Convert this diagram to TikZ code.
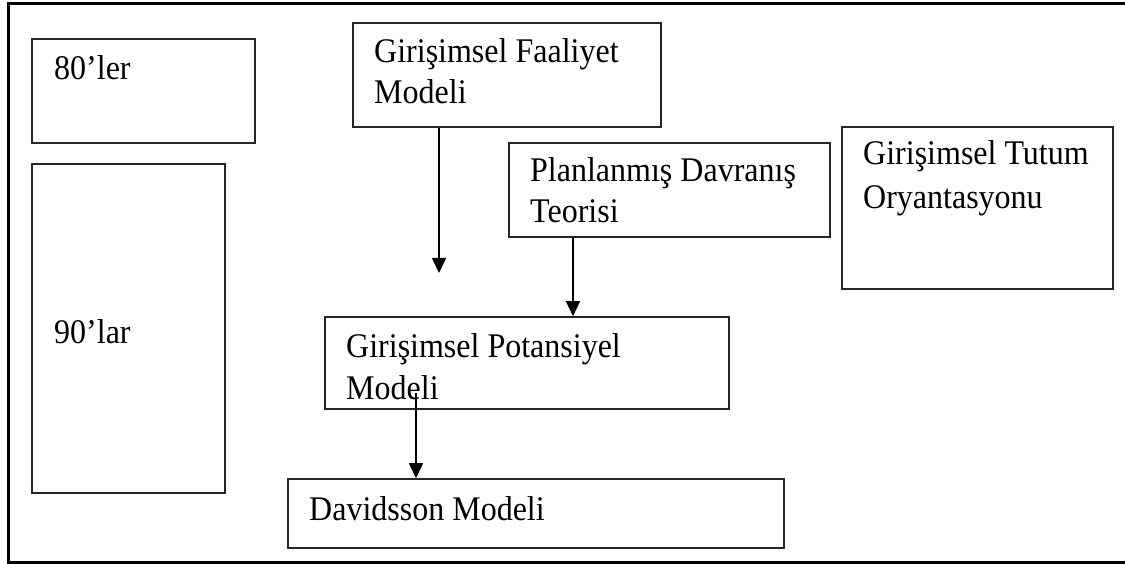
\documentclass[tikz,border=0pt]{standalone}
\usepackage{fontspec}
\setmainfont{Liberation Serif}
\usetikzlibrary{arrows.meta}
\newcommand{\tallt}[1]{\scalebox{1}[1.08]{#1}}
\begin{document}
\begin{tikzpicture}[x=1pt,y=-1pt,
  box/.style={draw=black!85, line width=1.6pt, inner sep=0pt, rectangle},
  txt/.style={anchor=base west, inner sep=0pt, font=\fontsize{32pt}{38pt}\selectfont},
  arr/.style={line width=1.5pt, -{Triangle[length=15pt,width=14pt]}}]
\useasboundingbox (0,0) rectangle (1125,564);
\fill[white] (0,0) rectangle (1125,564);
% outer frame
\draw[line width=3pt] (8,3.5) -- (1140,3.5);
\draw[line width=3pt] (8,562) -- (1140,562);
\draw[line width=3pt] (8,2) -- (8,563.5);
% boxes
\node[box, minimum width=223pt, minimum height=104pt] (b80) at (143.5,91) {};
\node[box, minimum width=193pt, minimum height=329pt] (b90) at (128.5,328.5) {};
\node[box, minimum width=308pt, minimum height=104pt] (faal) at (507,75) {};
\node[box, minimum width=321pt, minimum height=94pt] (plan) at (669.5,190) {};
\node[box, minimum width=271pt, minimum height=162pt] (tutum) at (977.5,208) {};
\node[box, minimum width=404pt, minimum height=92pt] (pot) at (527,363) {};
\node[box, minimum width=496pt, minimum height=69pt] (dav) at (536,513.5) {};
% texts
\node[txt] (t80) at (54,80) {\tallt{80’ler}};
\node[txt] (t90) at (54,343) {\tallt{90’lar}};
\node[txt] (faal1) at (374,63) {\tallt{Girişimsel Faaliyet}};
\node[txt] (faal2) at (374,104) {\tallt{Modeli}};
\node[txt] (plan1) at (530,182) {\tallt{Planlanmış Davranış}};
\node[txt] (plan2) at (530,223) {\tallt{Teorisi}};
\node[txt] (tut1) at (863,165) {\tallt{Girişimsel Tutum}};
\node[txt] (tut2) at (863,209) {\tallt{Oryantasyonu}};
\node[txt] (pot1) at (346,357) {\tallt{Girişimsel Potansiyel}};
\node[txt] (pot2) at (346,399) {\tallt{Modeli}};
\node[txt] (dav1) at (309,520) {\tallt{Davidsson Modeli}};
% arrows
\coordinate (a1end) at (439,273);
\coordinate (a2x) at (573,0);
\coordinate (a3s) at (416,393);
\draw[arr] (faal.south -| a1end) -- (a1end);
\draw[arr] (plan.south -| a2x) -- (pot.north -| a2x);
\draw[arr] (a3s) -- (dav.north -| a3s);
\end{tikzpicture}
\end{document}
